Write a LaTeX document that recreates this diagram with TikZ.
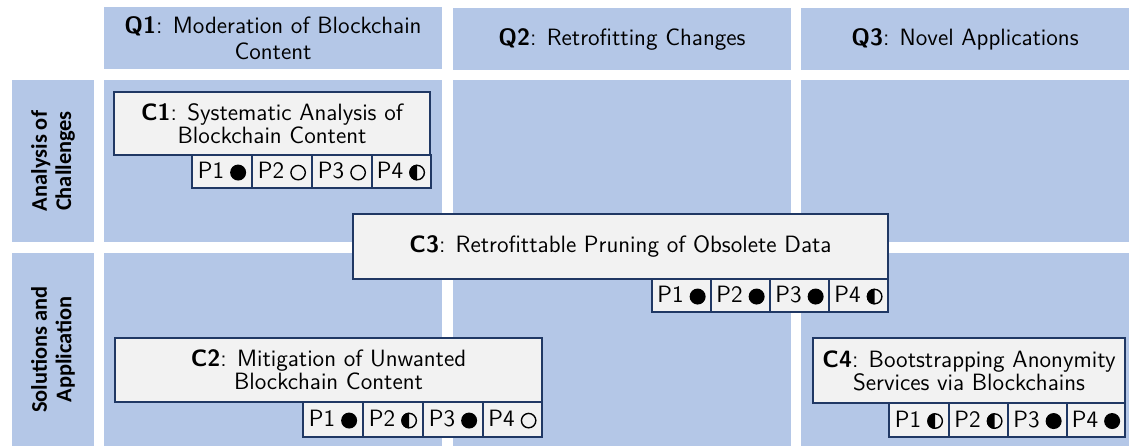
\documentclass[tikz,border=0pt]{standalone}
\usepackage{fontspec}
\newfontfamily\rowfont{Carlito}
\definecolor{cellblue}{HTML}{B4C7E7}
\definecolor{boxfill}{HTML}{F2F2F2}
\definecolor{navy}{HTML}{203864}
\newcommand\txtfont{\sffamily\fontsize{11.8}{11.5}\selectfont}
\newcommand\hdrfont{\sffamily\fontsize{11.8}{13}\selectfont}
\newcommand\fullc{\tikz[baseline=-0.6ex]{\fill[black] (0,0) circle (4pt);}}
\newcommand\emptyc{\tikz[baseline=-0.6ex]{\draw[black,line width=0.7pt] (0,0) circle (3.6pt);}}
\newcommand\halfc{\tikz[baseline=-0.6ex]{\fill[black] (0,0) -- (90:4pt) arc (90:270:4pt) -- cycle; \draw[black,line width=0.7pt] (0,0) circle (3.6pt);}}
\tikzset{
  sz/.style 2 args={minimum width={#1*0.5pt}, minimum height={#2*0.5pt}},
  cell/.style={fill=cellblue, draw=none, inner sep=0pt, align=center, font=\hdrfont},
  cbox/.style={fill=boxfill, draw=navy, line width=1pt, inner sep=0pt, align=center, font=\txtfont},
  pbox/.style={fill=boxfill, draw=navy, line width=1pt, inner sep=0pt, align=center, font=\txtfont},
  rowlabel/.style={rotate=90, align=center, inner sep=0pt, font=\rowfont\bfseries\fontsize{11.2}{12.2}\selectfont}
}
\begin{document}
\begin{tikzpicture}[x=0.5pt,y=-0.5pt]
\useasboundingbox (0,0) rectangle (1129,446);
% headers
\node[cell, sz={338}{62}] (q1) at (273,38) {\textbf{Q1}: Moderation of Blockchain\\Content};
\node[cell, sz={338}{62}] (q2) at (622,39) {\textbf{Q2}: Retrofitting Changes};
\node[cell, sz={328}{62}] (q3) at (965,39) {\textbf{Q3}: Novel Applications};
% row labels
\node[cell, sz={82}{162}] (r1) at (53,161) {};
\node[cell, sz={82}{193}] (r2) at (53,349.5) {};
\node[rowlabel] (r1t) at (r1.center) {Analysis of\\Challenges};
\node[rowlabel] (r2t) at (r2.center) {Solutions and\\Application};
% grid cells
\node[cell, sz={338}{162}] (a1) at (273,161) {};
\node[cell, sz={338}{162}] (a2) at (622,161) {};
\node[cell, sz={328}{162}] (a3) at (965,161) {};
\node[cell, sz={338}{193}] (b1) at (273,349.5) {};
\node[cell, sz={338}{193}] (b2) at (622,349.5) {};
\node[cell, sz={328}{193}] (b3) at (965,349.5) {};
% C1
\node[pbox, sz={60}{33}] (c1p1) at (222,171.5) {P1\hspace{3pt}\fullc};
\node[pbox, sz={60}{33}] (c1p2) at (282,171.5) {P2\hspace{3pt}\emptyc};
\node[pbox, sz={60}{33}] (c1p3) at (342,171.5) {P3\hspace{3pt}\emptyc};
\node[pbox, sz={59}{33}] (c1p4) at (401,171.5) {P4\hspace{3pt}\halfc};
\node[cbox, sz={316}{63}] (c1) at (272,123.5) {\textbf{C1}: Systematic Analysis of\\Blockchain Content};
% C3
\node[pbox, sz={59}{33}] (c3p1) at (681.5,295.5) {P1\hspace{3pt}\fullc};
\node[pbox, sz={59}{33}] (c3p2) at (740.5,295.5) {P2\hspace{3pt}\fullc};
\node[pbox, sz={59}{33}] (c3p3) at (799.5,295.5) {P3\hspace{3pt}\fullc};
\node[pbox, sz={59}{33}] (c3p4) at (858.5,295.5) {P4\hspace{3pt}\halfc};
\node[cbox, sz={535}{65}] (c3) at (620.5,246.5) {\textbf{C3}: Retrofittable Pruning of Obsolete Data};
% C2
\node[pbox, sz={60}{35}] (c2p1) at (333,419.5) {P1\hspace{3pt}\fullc};
\node[pbox, sz={60}{35}] (c2p2) at (393,419.5) {P2\hspace{3pt}\halfc};
\node[pbox, sz={60}{35}] (c2p3) at (453,419.5) {P3\hspace{3pt}\fullc};
\node[pbox, sz={59}{35}] (c2p4) at (512.5,419.5) {P4\hspace{3pt}\emptyc};
\node[cbox, sz={427}{64}] (c2) at (328.5,370) {\textbf{C2}: Mitigation of Unwanted\\Blockchain Content};
% C4
\node[pbox, sz={60}{34}] (c4p1) at (919,420) {P1\hspace{3pt}\halfc};
\node[pbox, sz={59}{34}] (c4p2) at (978.5,420) {P2\hspace{3pt}\halfc};
\node[pbox, sz={59}{34}] (c4p3) at (1037.5,420) {P3\hspace{3pt}\fullc};
\node[pbox, sz={58}{34}] (c4p4) at (1096,420) {P4\hspace{3pt}\fullc};
\node[cbox, sz={312}{65}] (c4) at (969,370.5) {\textbf{C4}: Bootstrapping Anonymity\\Services via Blockchains};
\end{tikzpicture}
\end{document}
